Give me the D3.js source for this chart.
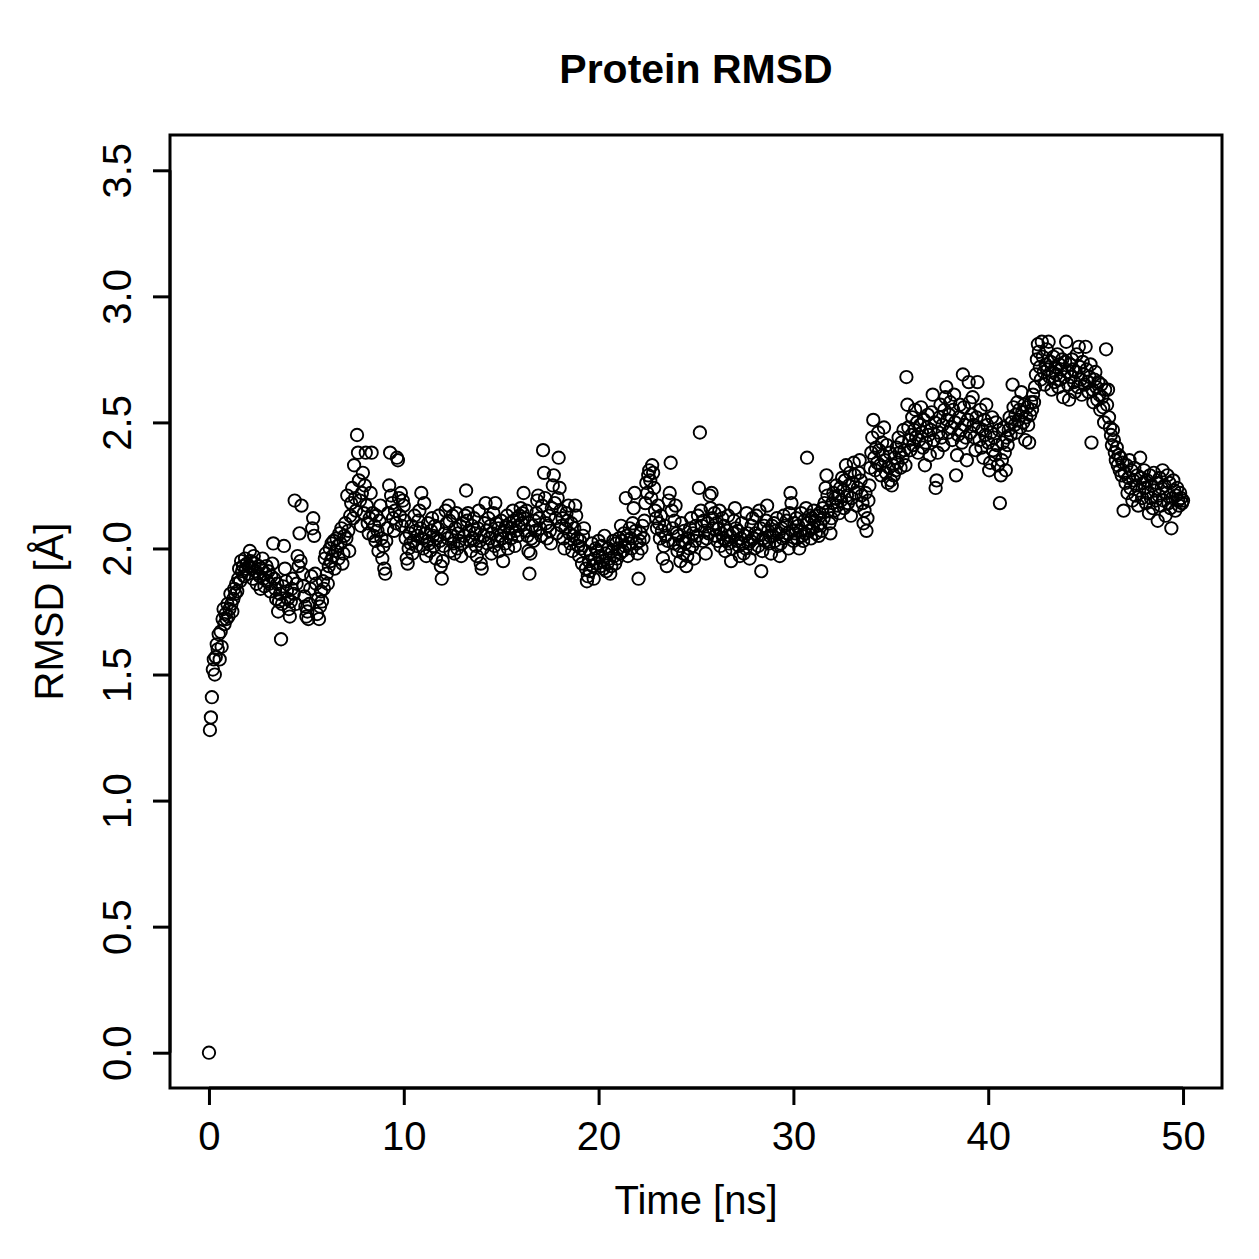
<!DOCTYPE html>
<html>
<head>
<meta charset="utf-8">
<script src="https://cdn.jsdelivr.net/npm/d3@7"></script>
<style>
  body { margin: 0; background: #fff; }
  text { font-family: "Liberation Sans", Arial, sans-serif; fill: #000; }
</style>
</head>
<body>
<svg id="view" width="1259" height="1259"></svg>
<script>
// DATA: RMSD (Angstrom) sampled every 0.05 ns, one row per ns
var TIME_STEP = 0.05;
var RMSD = [
    0.00, 1.28, 1.33, 1.41, 1.52, 1.56, 1.50, 1.57, 1.62, 1.60, 1.66, 1.56, 1.67, 1.61, 1.72, 1.76, 1.70, 1.74, 1.72, 1.78,
    1.73, 1.76, 1.82, 1.78, 1.75, 1.80, 1.84, 1.82, 1.86, 1.83, 1.88, 1.92, 1.87, 1.95, 1.91, 1.93, 1.89, 1.96, 1.92, 1.94,
    1.90, 1.93, 1.99, 1.95, 1.92, 1.88, 1.97, 1.94, 1.91, 1.86, 1.90, 1.93, 1.89, 1.84, 1.92, 1.96, 1.88, 1.85, 1.90, 1.93,
    1.87, 1.91, 1.86, 1.83, 1.89, 1.94, 2.02, 1.88, 1.84, 1.80, 1.86, 1.75, 1.79, 1.82, 1.64, 1.78, 1.85, 2.01, 1.92, 1.87,
    1.83, 1.80, 1.76, 1.73, 1.79, 1.84, 1.88, 1.82, 2.19, 1.78, 1.86, 1.97, 1.93, 2.06, 1.95, 2.17, 1.90, 1.85, 1.81, 1.77,
    1.73, 1.75, 1.72, 1.78, 1.84, 1.89, 2.08, 2.12, 2.05, 1.90, 1.86, 1.74, 1.80, 1.72, 1.77, 1.83, 1.79, 1.87, 1.84, 1.96,
    1.98, 1.90, 1.86, 1.93, 2.00, 1.95, 2.02, 1.97, 2.03, 1.92, 1.99, 2.04, 2.01, 1.96, 2.06, 2.02, 2.08, 1.94, 1.98, 2.05,
    2.10, 2.04, 2.21, 2.07, 1.99, 2.13, 2.18, 2.24, 2.12, 2.33, 2.20, 2.15, 2.45, 2.38, 2.27, 2.19, 2.09, 2.22, 2.30, 2.14,
    2.25, 2.38, 2.17, 2.10, 2.06, 2.12, 2.22, 2.38, 2.14, 2.05, 2.09, 2.03, 2.13, 2.07, 1.99, 2.11, 2.17, 2.04, 1.96, 2.01,
    1.92, 1.90, 2.03, 2.08, 2.14, 2.25, 2.38, 2.21, 2.18, 2.12, 2.07, 2.15, 2.10, 2.36, 2.35, 2.20, 2.13, 2.22, 2.09, 2.19,
    2.17, 2.11, 2.04, 1.96, 1.94, 2.00, 2.06, 2.02, 2.09, 1.98, 2.03, 2.13, 2.07, 2.01, 2.05, 2.11, 2.15, 2.08, 2.22, 2.04,
    2.00, 2.18, 2.06, 1.97, 2.03, 2.10, 2.02, 1.99, 2.07, 2.12, 2.05, 2.01, 2.09, 1.96, 2.04, 2.08, 2.13, 2.03, 1.93, 1.88,
    1.95, 2.01, 2.06, 2.15, 2.10, 2.04, 2.17, 2.11, 1.99, 2.05, 2.13, 2.02, 1.98, 2.08, 2.14, 2.00, 2.06, 2.03, 2.09, 1.97,
    2.02, 2.10, 2.05, 2.13, 2.23, 2.11, 2.14, 2.07, 2.03, 1.99, 2.09, 2.04, 2.12, 2.06, 2.01, 1.97, 2.08, 2.15, 2.03, 1.94,
    1.92, 2.00, 2.05, 2.10, 2.18, 2.07, 2.02, 2.12, 2.04, 2.09, 1.98, 2.06, 2.14, 2.01, 2.18, 2.10, 2.03, 2.08, 1.99, 2.05,
    2.11, 2.04, 1.95, 2.07, 2.02, 2.09, 2.13, 2.00, 2.06, 2.10, 2.04, 2.08, 2.15, 2.11, 2.01, 2.07, 2.12, 2.05, 2.09, 2.13,
    2.16, 2.10, 2.14, 2.22, 2.12, 2.07, 2.15, 2.05, 1.99, 1.90, 1.98, 2.04, 2.09, 2.03, 2.11, 2.07, 2.14, 2.19, 2.21, 2.12,
    2.08, 2.05, 2.17, 2.39, 2.30, 2.20, 2.10, 2.04, 2.09, 2.13, 2.07, 2.02, 2.16, 2.25, 2.29, 2.18, 2.12, 2.06, 2.20, 2.36,
    2.24, 2.15, 2.09, 2.12, 2.04, 2.00, 2.08, 2.14, 2.11, 2.17, 2.06, 2.02, 2.10, 1.99, 2.05, 2.08, 2.17, 2.13, 2.04, 2.01,
    1.97, 2.03, 2.00, 1.94, 2.05, 2.08, 1.99, 1.92, 1.87, 1.89, 1.95, 1.91, 1.98, 2.02, 1.93, 1.88, 1.96, 2.00, 1.94, 1.99,
    2.03, 1.97, 1.93, 2.01, 1.95, 1.92, 2.05, 1.98, 1.91, 1.94, 2.00, 1.96, 1.90, 1.93, 1.99, 2.03, 1.97, 1.94, 2.02, 1.96,
    2.00, 2.04, 1.98, 2.09, 2.03, 1.99, 2.06, 2.01, 2.20, 2.05, 1.97, 2.02, 2.08, 2.04, 2.00, 2.10, 2.16, 2.22, 2.07, 2.02,
    1.98, 1.88, 2.03, 2.06, 2.00, 2.09, 2.04, 2.11, 2.18, 2.26, 2.22, 2.29, 2.31, 2.27, 2.20, 2.33, 2.30, 2.24, 2.15, 2.12,
    2.08, 2.17, 2.10, 2.04, 2.13, 2.07, 1.96, 2.01, 2.09, 2.05, 1.93, 2.03, 2.19, 2.22, 2.34, 2.15, 2.08, 2.02, 2.11, 2.17,
    2.06, 1.99, 2.05, 2.01, 1.95, 2.10, 2.03, 1.98, 2.07, 2.02, 1.93, 1.97, 2.04, 2.00, 2.08, 2.12, 2.01, 2.06, 1.96, 2.03,
    2.09, 2.05, 2.13, 2.24, 2.46, 2.15, 2.09, 2.03, 2.11, 2.07, 1.98, 2.04, 2.10, 2.06, 2.21, 2.16, 2.22, 2.12, 2.08, 2.14,
    2.05, 2.10, 2.03, 2.08, 2.15, 2.01, 2.06, 2.12, 2.04, 2.09, 1.99, 2.03, 2.07, 2.13, 2.02, 2.05, 1.95, 2.00, 2.06, 2.11,
    2.16, 2.08, 2.03, 2.07, 2.01, 1.97, 2.04, 2.10, 2.02, 1.98, 2.05, 2.00, 2.14, 2.06, 2.02, 1.96, 2.03, 2.09, 2.12, 2.04,
    2.00, 2.06, 2.13, 2.05, 2.01, 2.15, 2.08, 1.91, 1.99, 2.04, 2.09, 2.03, 2.11, 2.17, 2.07, 2.02, 2.05, 1.98, 2.09, 2.05,
    2.10, 2.03, 2.07, 2.12, 2.01, 2.06, 1.97, 2.02, 2.08, 2.04, 2.13, 2.09, 2.05, 2.11, 2.06, 2.00, 2.14, 2.22, 2.18, 2.07,
    2.03, 2.10, 2.06, 2.12, 2.04, 2.09, 2.00, 2.07, 2.14, 2.05, 2.03, 2.11, 2.06, 2.16, 2.36, 2.10, 2.07, 2.13, 2.04, 2.12,
    2.08, 2.15, 2.11, 2.06, 2.13, 2.09, 2.05, 2.14, 2.10, 2.07, 2.16, 2.12, 2.18, 2.24, 2.29, 2.21, 2.15, 2.10, 2.06, 2.12,
    2.18, 2.22, 2.15, 2.20, 2.25, 2.17, 2.21, 2.14, 2.24, 2.19, 2.28, 2.23, 2.16, 2.27, 2.33, 2.21, 2.18, 2.25, 2.30, 2.13,
    2.20, 2.26, 2.34, 2.29, 2.22, 2.17, 2.24, 2.30, 2.35, 2.27, 2.21, 2.18, 2.10, 2.15, 2.22, 2.07, 2.12, 2.19, 2.25, 2.32,
    2.38, 2.44, 2.51, 2.36, 2.31, 2.40, 2.34, 2.46, 2.39, 2.33, 2.29, 2.42, 2.37, 2.48, 2.35, 2.30, 2.41, 2.26, 2.32, 2.38,
    2.27, 2.25, 2.33, 2.29, 2.36, 2.31, 2.40, 2.34, 2.44, 2.38, 2.32, 2.42, 2.36, 2.47, 2.39, 2.33, 2.68, 2.57, 2.48, 2.43,
    2.39, 2.45, 2.52, 2.41, 2.47, 2.55, 2.44, 2.50, 2.38, 2.43, 2.49, 2.56, 2.46, 2.40, 2.51, 2.33, 2.42, 2.48, 2.53, 2.45,
    2.37, 2.47, 2.54, 2.61, 2.43, 2.50, 2.24, 2.27, 2.38, 2.46, 2.52, 2.57, 2.44, 2.49, 2.41, 2.55, 2.60, 2.64, 2.51, 2.46,
    2.53, 2.58, 2.48, 2.43, 2.55, 2.61, 2.50, 2.29, 2.37, 2.45, 2.52, 2.57, 2.47, 2.42, 2.69, 2.56, 2.49, 2.44, 2.35, 2.51,
    2.66, 2.58, 2.46, 2.53, 2.60, 2.49, 2.44, 2.39, 2.52, 2.66, 2.48, 2.43, 2.55, 2.40, 2.47, 2.36, 2.51, 2.45, 2.57, 2.49,
    2.42, 2.31, 2.34, 2.46, 2.52, 2.39, 2.44, 2.37, 2.50, 2.41, 2.33, 2.47, 2.18, 2.29, 2.35, 2.42, 2.48, 2.38, 2.31, 2.44,
    2.41, 2.47, 2.52, 2.45, 2.50, 2.65, 2.56, 2.49, 2.53, 2.46, 2.58, 2.51, 2.55, 2.48, 2.62, 2.54, 2.50, 2.57, 2.43, 2.52,
    2.56, 2.49, 2.42, 2.53, 2.58, 2.55, 2.61, 2.58, 2.64, 2.69, 2.75, 2.81, 2.78, 2.72, 2.67, 2.82, 2.76, 2.70, 2.65, 2.73,
    2.79, 2.71, 2.82, 2.68, 2.74, 2.63, 2.70, 2.76, 2.66, 2.72, 2.69, 2.77, 2.64, 2.73, 2.67, 2.71, 2.75, 2.60, 2.68, 2.74,
    2.82, 2.70, 2.65, 2.59, 2.73, 2.68, 2.75, 2.71, 2.66, 2.62, 2.70, 2.77, 2.64, 2.80, 2.72, 2.67, 2.61, 2.74, 2.69, 2.65,
    2.80, 2.71, 2.66, 2.62, 2.68, 2.73, 2.42, 2.63, 2.58, 2.67, 2.70, 2.64, 2.59, 2.66, 2.61, 2.55, 2.65, 2.60, 2.56, 2.50,
    2.63, 2.79, 2.57, 2.63, 2.52, 2.48, 2.45, 2.41, 2.47, 2.43, 2.38, 2.35, 2.40, 2.33, 2.37, 2.31, 2.36, 2.29, 2.34, 2.15,
    2.30, 2.26, 2.33, 2.22, 2.28, 2.35, 2.24, 2.31, 2.19, 2.27, 2.32, 2.21, 2.25, 2.29, 2.17, 2.23, 2.36, 2.28, 2.20, 2.26,
    2.31, 2.24, 2.18, 2.27, 2.22, 2.14, 2.29, 2.20, 2.25, 2.16, 2.30, 2.23, 2.19, 2.26, 2.11, 2.21, 2.28, 2.17, 2.24, 2.31,
    2.19, 2.25, 2.13, 2.22, 2.29, 2.18, 2.26, 2.16, 2.08, 2.20, 2.27, 2.23, 2.15, 2.21, 2.24, 2.19, 2.17, 2.22, 2.20, 2.18,
    2.19
];

var X_TICKS = [0, 10, 20, 30, 40, 50];
var Y_TICKS = [0.0, 0.5, 1.0, 1.5, 2.0, 2.5, 3.0, 3.5];
var TITLE = "Protein RMSD";
var X_LABEL = "Time [ns]";
var Y_LABEL = "RMSD [Å]";

// plot region (R style: limits padded by 4%)
var LEFT = 170, RIGHT = 1222, TOP = 135, BOTTOM = 1088;
var TICK_LEN = 17;
var FONT = 40;
var LINE = 3;

function main() {
    var svg = d3.select("#view");

    var x = d3.scaleLinear()
        .domain([0 - 0.04 * 50, 50 + 0.04 * 50])
        .range([LEFT, RIGHT]);
    var y = d3.scaleLinear()
        .domain([0 - 0.04 * 3.5, 3.5 + 0.04 * 3.5])
        .range([BOTTOM, TOP]);

    // points
    svg.append("g")
        .selectAll("circle")
        .data(RMSD)
        .join("circle")
        .attr("cx", function(d, i) { return x(i * TIME_STEP); })
        .attr("cy", function(d) { return y(d); })
        .attr("r", 6.2)
        .attr("fill", "none")
        .attr("stroke", "#000")
        .attr("stroke-width", 1.9);

    // box
    svg.append("rect")
        .attr("x", LEFT)
        .attr("y", TOP)
        .attr("width", RIGHT - LEFT)
        .attr("height", BOTTOM - TOP)
        .attr("fill", "none")
        .attr("stroke", "#000")
        .attr("stroke-width", LINE);

    // x axis
    var xAxis = d3.axisBottom(x)
        .tickValues(X_TICKS)
        .tickSize(TICK_LEN)
        .tickPadding(17)
        .tickFormat(d3.format("d"));
    var gx = svg.append("g")
        .attr("transform", "translate(0," + BOTTOM + ")")
        .call(xAxis);
    gx.select(".domain")
        .attr("d", "M" + x(0) + ",0H" + x(50))
        .attr("stroke-width", LINE);
    gx.selectAll(".tick line").attr("stroke-width", LINE);
    gx.selectAll(".tick text")
        .attr("font-size", FONT)
        .attr("font-family", "Liberation Sans, Arial, sans-serif");

    // y axis
    var yAxis = d3.axisLeft(y)
        .tickValues(Y_TICKS)
        .tickSize(TICK_LEN)
        .tickFormat(d3.format(".1f"));
    var gy = svg.append("g")
        .attr("transform", "translate(" + LEFT + ",0)")
        .call(yAxis);
    gy.select(".domain")
        .attr("d", "M0," + y(0) + "V" + y(3.5))
        .attr("stroke-width", LINE);
    gy.selectAll(".tick line").attr("stroke-width", LINE);
    gy.selectAll(".tick text")
        .attr("font-size", FONT)
        .attr("font-family", "Liberation Sans, Arial, sans-serif")
        .attr("x", null)
        .attr("dy", null)
        .attr("text-anchor", "middle")
        .attr("transform", "translate(-39,0) rotate(-90)");

    // title and labels
    svg.append("text")
        .attr("x", (LEFT + RIGHT) / 2)
        .attr("y", 83)
        .attr("text-anchor", "middle")
        .attr("font-size", 41)
        .attr("font-weight", "bold")
        .text(TITLE);
    svg.append("text")
        .attr("x", (LEFT + RIGHT) / 2)
        .attr("y", 1214)
        .attr("text-anchor", "middle")
        .attr("font-size", FONT)
        .text(X_LABEL);
    svg.append("text")
        .attr("transform", "translate(63," + (TOP + BOTTOM) / 2 + ") rotate(-90)")
        .attr("text-anchor", "middle")
        .attr("font-size", FONT)
        .text(Y_LABEL);
}

main();
</script>
</body>
</html>
